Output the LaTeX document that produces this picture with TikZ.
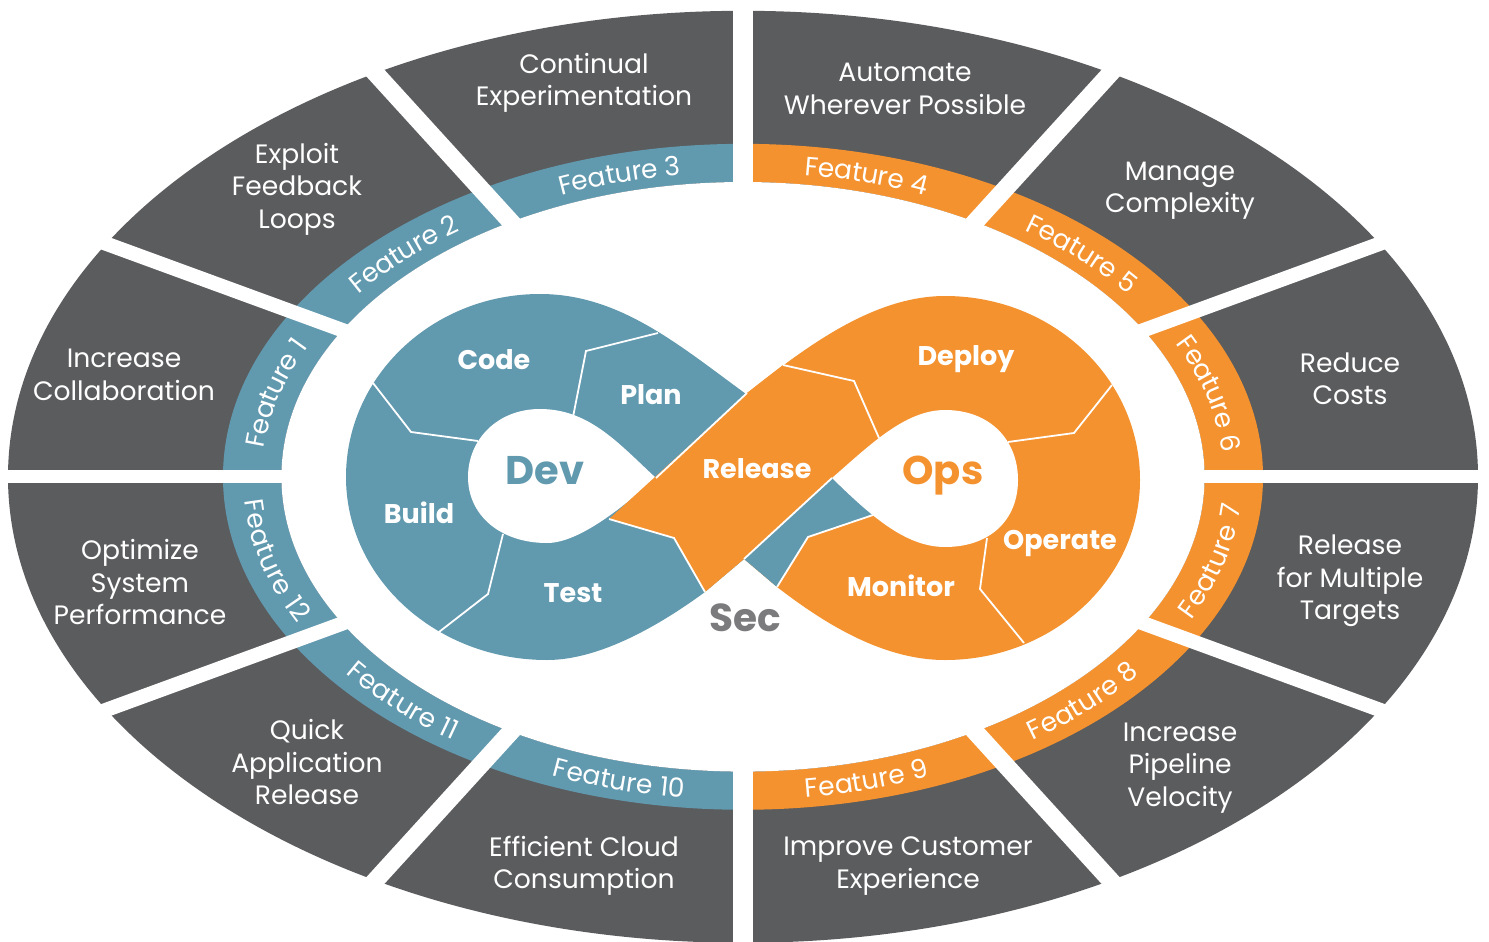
\documentclass[tikz,border=0pt]{standalone}
\usepackage{fontspec}
\setmainfont{Poppins}
\usetikzlibrary{decorations.text}
\definecolor{dgray}{HTML}{5B5C5E}
\definecolor{dblue}{HTML}{6199AF}
\definecolor{dorange}{HTML}{F4922F}
\definecolor{sgray}{HTML}{7B7B7D}
\newcommand\featfont{\fontsize{26.5}{26.5}\selectfont}
\newcommand\featlabel[3]{\path[decorate,decoration={text along path,text align=center,raise=-9.5pt,text={|\featfont\color{white}|#3}}] plot[domain=-17:17,samples=41,variable=\t] ({743+490.5*cos(#1#2\t)},{476.8+313.8*sin(#1#2\t)});}
\begin{document}
\begin{tikzpicture}[x=1pt,y=-1pt,
  outtxt/.style={text=white, align=center, inner sep=0pt, font=\fontsize{26.6}{32.5}\selectfont},
  inftxt/.style={text=white, anchor=base, inner sep=0pt, font=\bfseries\fontsize{27}{27}\selectfont},
  bigtxt/.style={anchor=base, inner sep=0pt, font=\bfseries\fontsize{40}{40}\selectfont},
  divline/.style={white, line width=1.8pt, line join=miter}]
\fill[white] (0,0) rectangle (1489,942);
\useasboundingbox (0,0) rectangle (1489,942);
% ---------- elliptic ring ----------
\begin{scope}[shift={(743,476.8)}, xscale=735, yscale=466]
  \fill[dgray] (0,0) circle[radius=1];
  \begin{scope}
    \clip (-1.1,-1.1) rectangle (0,1.1);
    \fill[dblue, even odd rule] (0,0) ellipse[x radius=0.7075, y radius=0.7145] (0,0) ellipse[x radius=0.628, y radius=0.6326];
  \end{scope}
  \begin{scope}
    \clip (0,-1.1) rectangle (1.1,1.1);
    \fill[dorange, even odd rule] (0,0) ellipse[x radius=0.7075, y radius=0.7145] (0,0) ellipse[x radius=0.628, y radius=0.6326];
  \end{scope}
  \fill[white] (0,0) ellipse[x radius=0.628, y radius=0.6326];
  \foreach \a in {0,30,...,150} \fill[white, rotate=\a] (-1.1,-0.0142) rectangle (1.1,0.0142);
\end{scope}
% ---------- feature labels ----------
\featlabel{-165}{+}{Feature 1}
\featlabel{-135}{+}{Feature 2}
\featlabel{-105}{+}{Feature 3}
\featlabel{-75}{+}{Feature 4}
\featlabel{-45}{+}{Feature 5}
\featlabel{-15}{+}{Feature 6}
\featlabel{15}{-}{Feature 7}
\featlabel{45}{-}{Feature 8}
\featlabel{75}{-}{Feature 9}
\featlabel{105}{-}{Feature 10}
\featlabel{135}{-}{Feature 11}
\featlabel{165}{-}{Feature 12}
% ---------- outer texts ----------
\node[outtxt] (o3) at (584,83) {Continual\\Experimentation};
\node[outtxt] (o4) at (905,89) {Automate\\Wherever Possible};
\node[outtxt] (o2) at (297,189) {Exploit\\Feedback\\Loops};
\node[outtxt] (o5) at (1180,191) {Manage\\Complexity};
\node[outtxt] (o1) at (124,375) {Increase\\Collaboration};
\node[outtxt] (o6) at (1350,379) {Reduce\\Costs};
\node[outtxt] (o12) at (140,582) {Optimize\\System\\Performance};
\node[outtxt] (o7) at (1350,581) {Release\\for Multiple\\Targets};
\node[outtxt] (o11) at (307,762) {Quick\\Application\\Release};
\node[outtxt] (o8) at (1180,768) {Increase\\Pipeline\\Velocity};
\node[outtxt] (o10) at (584,866) {Efficient Cloud\\Consumption};
\node[outtxt] (o9) at (908,866) {Improve Customer\\Experience};
% ---------- infinity loop ----------
\fill[dorange] (746,394) .. controls (800,352) and (870,296) .. (945,296)
  .. controls (1053,296) and (1140,378) .. (1140,480)
  .. controls (1140,579) and (1053,660) .. (945,660)
  .. controls (880,660) and (820,620) .. (777,587)
  -- (744,559) -- cycle;
\fill[dblue] (746,394) .. controls (680,346) and (620,294) .. (540,294)
  .. controls (433,294) and (346,376) .. (346,477)
  .. controls (346,578) and (436,660) .. (547,660)
  .. controls (600,660) and (660,625) .. (705,592)
  -- (744,559) -- (832,478) -- cycle;
\fill[dblue] (744,559) -- (777,587) -- (808,537) -- (873,515) -- (860,490) -- (832,478) -- cycle;
\fill[white] (656,478) .. controls (620,445) and (590,409) .. (540,409)
  .. controls (497,409) and (468,440) .. (468,477)
  .. controls (468,515) and (500,543) .. (547,543)
  .. controls (580,543) and (625,505) .. (656,478) -- cycle;
\fill[dorange] (609,519) -- (747,393) -- (783,365) -- (854,381) -- (879,438) -- (845,468) -- (832,478) -- (744,559) -- (705,592) -- (674,538) -- cycle;
\fill[white] (832,478) .. controls (870,445) and (905,410) .. (945,410)
  .. controls (990,410) and (1018,440) .. (1018,480)
  .. controls (1018,520) and (990,547) .. (945,547)
  .. controls (905,547) and (870,515) .. (832,478) -- cycle;
% dividers
\draw[divline] (373,383) -- (411,432) -- (478,441);
\draw[divline] (658,333) -- (586,351) -- (573,417);
\draw[divline] (503,534) -- (488,594) -- (439,632);
\draw[divline] (609,519) -- (674,538) -- (705,592);
\draw[divline] (656,478) -- (747,393);
\draw[divline] (783,365) -- (854,381) -- (879,438);
\draw[divline] (1008,442) -- (1074,433) -- (1112,385);
\draw[divline] (987,538) -- (980,589) -- (1024,643);
\draw[divline] (873,515) -- (808,537) -- (777,587);
\draw[divline] (744,559) -- (832,478);
% labels
\node[inftxt] (code) at (494,369) {Code};
\node[inftxt] (plan) at (651,404) {Plan};
\node[inftxt] (build) at (419,523) {Build};
\node[inftxt] (test) at (573,602) {Test};
\node[inftxt] (release) at (757,478) {Release};
\node[inftxt] (deploy) at (966,365) {Deploy};
\node[inftxt] (operate) at (1060,549) {Operate};
\node[inftxt] (monitor) at (901,596) {Monitor};
\node[bigtxt, text=dblue] (dev) at (545,484) {Dev};
\node[bigtxt, text=dorange] (ops) at (943,484) {Ops};
\node[bigtxt, text=sgray, font=\bfseries\fontsize{39}{39}\selectfont] (sec) at (745,631) {Sec};
\end{tikzpicture}
\end{document}
